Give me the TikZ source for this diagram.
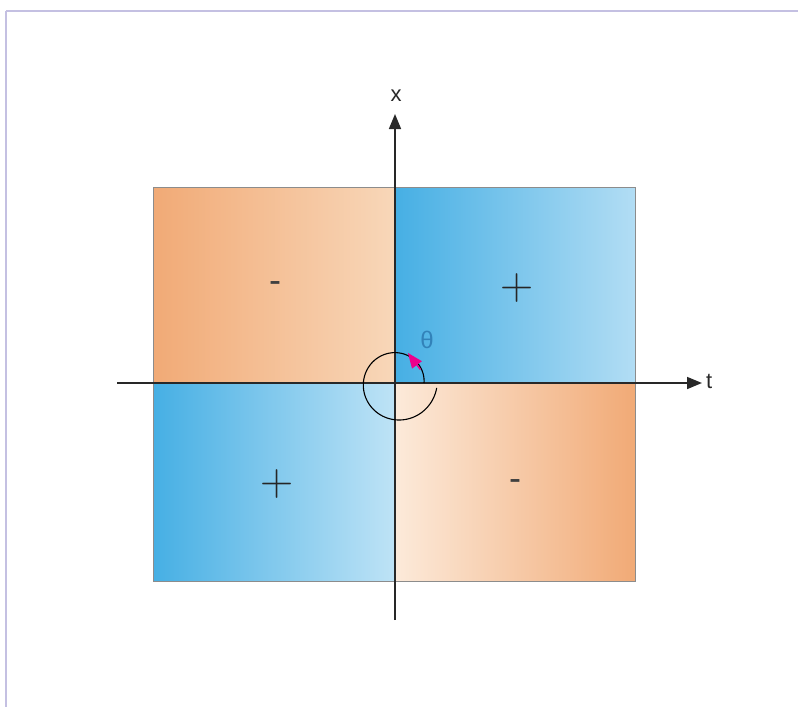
\documentclass[tikz,border=0pt]{standalone}
\usepackage{fontspec}
\setmainfont{Liberation Sans}
\newfontfamily\lmfont{Latin Modern Roman}
\usetikzlibrary{arrows.meta}
\definecolor{orD}{RGB}{241,170,118}
\definecolor{orL}{RGB}{248,215,185}
\definecolor{orVL}{RGB}{252,234,218}
\definecolor{blD}{RGB}{70,175,228}
\definecolor{blL}{RGB}{178,221,244}
\definecolor{blVL}{RGB}{190,227,246}
\definecolor{framec}{RGB}{196,192,226}
\definecolor{axisc}{RGB}{40,40,40}
\definecolor{thetac}{RGB}{50,130,185}
\tikzset{
  quad/.style={draw=black!45, line width=0.8pt},
  axisline/.style={draw=axisc, line width=1.6pt, -{Triangle[length=15pt,width=12pt]}},
  lbl/.style={font=\fontsize{22}{24}\selectfont, text=axisc, inner sep=0pt},
  plussign/.style={font=\lmfont\fontsize{46}{48}\selectfont, text=black!85, inner sep=0pt},
  minussign/.style={font=\fontsize{36}{38}\selectfont, text=black!75, inner sep=0pt},
}
\begin{document}
\begin{tikzpicture}[x=1pt,y=-1pt]
\useasboundingbox (0,0) rectangle (798,707);
% frame
\draw[framec, line width=2.5pt] (6,11) -- (798,11);
\draw[framec, line width=2.5pt] (6,11) -- (6,707);
% quadrants
\path[quad, left color=orD, right color=orL] (153,187) rectangle (395,383);
\path[quad, left color=blD, right color=blL] (395,187) rectangle (635,383);
\path[quad, left color=blD, right color=blVL] (153,383) rectangle (395,581);
\path[quad, left color=orVL, right color=orD] (395,383) rectangle (635,581);
% axes
\coordinate (o) at (395,383);
\coordinate (xs) at (395,620);
\coordinate (xe) at (395,114);
\coordinate (ts) at (117,383);
\coordinate (te) at (702,383);
\draw[axisline] (xs) -- (xe);
\draw[axisline] (ts) -- (te);
\node[lbl, anchor=south] (xl) at (396,102) {x};
\node[lbl, anchor=west] (tl) at (706,381) {t};
% signs
\node[minussign] (s1) at (275,287) {-};
\node[plussign] (s2) at (517,288) {+};
\node[plussign] (s3) at (277,484) {+};
\node[minussign] (s4) at (515,485) {-};
% spiral angle
\draw[black, line width=1.1pt] plot[domain=0:353, samples=120, smooth] ({397+(27+13*\x/353)*cos(\x)},{383-(27+13*\x/353)*sin(\x)});
\draw[magenta, line width=1.4pt, -{Triangle[length=15pt,width=12pt]}] ({397+27*cos(30)},{383-27*sin(30)}) -- ({397+32*cos(70)},{383-32*sin(70)});
\node[font=\fontsize{24}{26}\selectfont, text=thetac, inner sep=0pt] (th) at (427,340) {θ};
\end{tikzpicture}
\end{document}
